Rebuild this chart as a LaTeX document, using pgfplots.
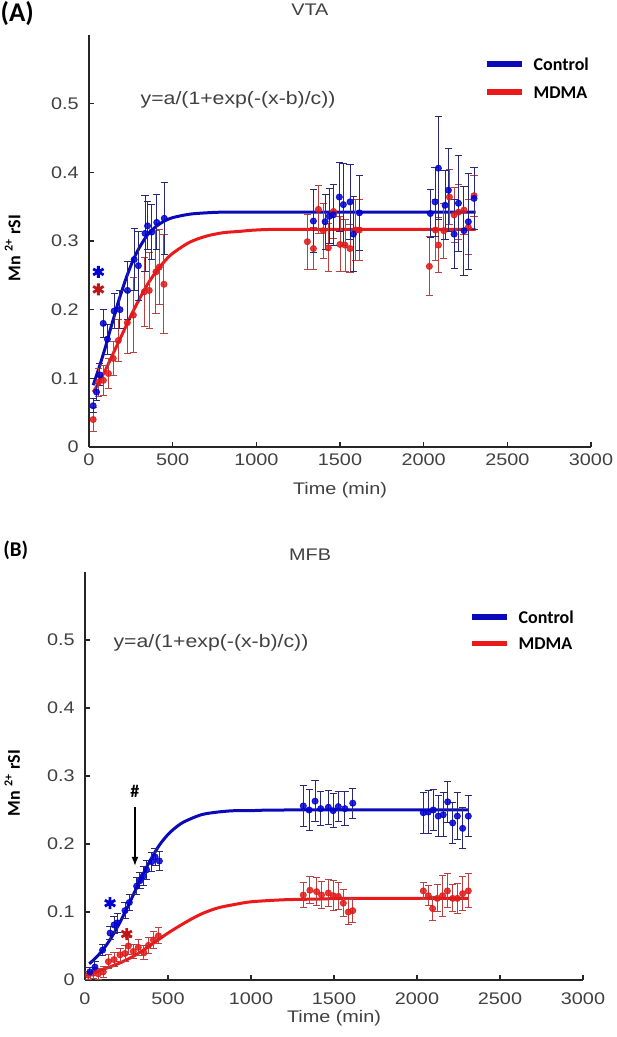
\documentclass[border=0pt]{standalone}
\usepackage{fontspec}
\setmainfont{Liberation Sans}[FakeStretch=1.18]
\newfontfamily\carlito{Carlito}
\usepackage{pgfplots}
\usepackage{pgfplotstable}
\pgfplotsset{compat=1.18}
\usetikzlibrary{arrows.meta}

\definecolor{ctrlmark}{RGB}{0,0,210}
\definecolor{ctrlbar}{RGB}{40,40,120}
\definecolor{ctrlline}{RGB}{10,10,185}
\definecolor{mdmamark}{RGB}{225,25,25}
\definecolor{mdmabar}{RGB}{185,65,65}
\definecolor{mdmaline}{RGB}{235,25,25}
\definecolor{ticktext}{RGB}{64,64,64}

% ---- VTA: mean, s.e.m.
\pgfplotstableread{
x y e
25 0.060 0.010
45 0.080 0.012
65 0.105 0.016
85 0.180 0.020
110 0.157 0.022
150 0.198 0.025
185 0.200 0.028
230 0.228 0.042
270 0.273 0.045
295 0.264 0.050
335 0.311 0.055
350 0.322 0.035
375 0.313 0.040
405 0.327 0.040
450 0.333 0.052
1341 0.329 0.046
1411 0.328 0.040
1436 0.336 0.040
1460 0.338 0.045
1496 0.364 0.050
1520 0.353 0.060
1560 0.357 0.055
1580 0.310 0.055
1616 0.341 0.055
2040 0.340 0.035
2068 0.357 0.050
2088 0.406 0.075
2128 0.352 0.050
2148 0.374 0.060
2182 0.310 0.050
2208 0.355 0.070
2241 0.315 0.065
2267 0.328 0.070
2301 0.362 0.045
}\vtactrl

\pgfplotstableread{
x y e
25 0.040 0.018
56 0.094 0.020
86 0.097 0.022
116 0.107 0.022
145 0.129 0.025
175 0.155 0.030
229 0.181 0.045
265 0.192 0.055
331 0.226 0.050
360 0.228 0.055
400 0.255 0.060
420 0.262 0.055
448 0.237 0.072
1305 0.299 0.040
1341 0.289 0.030
1371 0.346 0.035
1400 0.315 0.040
1430 0.290 0.035
1461 0.343 0.040
1500 0.295 0.040
1530 0.294 0.038
1560 0.289 0.035
1595 0.316 0.045
1616 0.316 0.045
2034 0.263 0.043
2070 0.316 0.045
2088 0.294 0.040
2120 0.315 0.040
2154 0.364 0.040
2182 0.338 0.040
2208 0.342 0.040
2241 0.345 0.035
2267 0.320 0.040
2301 0.366 0.030
}\vtamdma

% fitted curves
\pgfplotstableread{
x y
25 0.090
50 0.108
75 0.127
100 0.147
125 0.169
150 0.190
175 0.211
200 0.230
225 0.248
250 0.264
275 0.278
300 0.290
350 0.309
400 0.321
450 0.329
500 0.334
600 0.339
700 0.341
800 0.342
1000 0.342
2310 0.342
}\vtactrlfit

\pgfplotstableread{
x y
25 0.080
50 0.090
100 0.113
150 0.139
200 0.165
250 0.191
300 0.215
350 0.237
400 0.255
450 0.270
500 0.282
600 0.298
700 0.307
800 0.312
900 0.314
1000 0.316
1200 0.317
2310 0.317
}\vtamdmafit

% ---- MFB
\pgfplotstableread{
x y e
30 0.012 0.006
60 0.019 0.008
106 0.044 0.008
151 0.069 0.010
175 0.081 0.012
195 0.084 0.014
241 0.102 0.012
267 0.114 0.012
311 0.138 0.013
331 0.146 0.012
351 0.153 0.014
371 0.162 0.014
402 0.174 0.014
422 0.181 0.012
448 0.175 0.014
1315 0.256 0.030
1350 0.250 0.030
1386 0.263 0.030
1420 0.252 0.025
1466 0.254 0.025
1495 0.249 0.025
1526 0.255 0.022
1566 0.252 0.025
1613 0.260 0.022
2038 0.246 0.030
2068 0.247 0.032
2098 0.250 0.030
2128 0.241 0.030
2158 0.243 0.032
2185 0.262 0.030
2215 0.231 0.030
2243 0.241 0.035
2275 0.223 0.030
2309 0.241 0.030
}\mfbctrl

\pgfplotstableread{
x y e
20 0.007 0.006
50 0.010 0.008
80 0.009 0.008
110 0.012 0.008
141 0.027 0.010
175 0.030 0.010
211 0.037 0.010
241 0.039 0.012
261 0.050 0.012
291 0.042 0.010
321 0.048 0.012
355 0.040 0.010
382 0.051 0.012
412 0.059 0.012
442 0.065 0.012
1315 0.125 0.018
1355 0.132 0.020
1395 0.130 0.020
1425 0.125 0.020
1466 0.128 0.020
1495 0.124 0.022
1526 0.123 0.020
1556 0.113 0.020
1586 0.100 0.018
1613 0.102 0.018
2038 0.131 0.012
2068 0.124 0.015
2094 0.105 0.018
2122 0.120 0.020
2154 0.124 0.030
2183 0.131 0.025
2215 0.120 0.020
2243 0.120 0.022
2275 0.127 0.025
2309 0.131 0.025
}\mfbmdma

\pgfplotstableread{
x y
25 0.024
50 0.029
100 0.042
150 0.059
200 0.080
250 0.104
300 0.130
350 0.156
400 0.179
450 0.199
500 0.214
550 0.225
600 0.233
700 0.243
800 0.247
900 0.249
1000 0.249
1200 0.250
2310 0.250
}\mfbctrlfit

\pgfplotstableread{
x y
25 0.010
100 0.015
200 0.024
300 0.036
400 0.052
500 0.069
600 0.084
700 0.097
800 0.106
900 0.111
1000 0.115
1200 0.118
1400 0.119
1600 0.120
2310 0.120
}\mfbmdmafit

\pgfplotsset{
  mri/.style={
    scale only axis, clip=false,
    axis lines=left,
    axis line style={-, line width=0.7pt, black!85},
    xmin=0, xmax=3000, ymin=0, ymax=0.6,
    xtick={0,500,1000,1500,2000,2500,3000},
    xticklabels={0,500,1000,1500,2000,2500,3000},
    ytick={0,0.1,0.2,0.3,0.4,0.5},
    yticklabels={0,0.1,0.2,0.3,0.4,0.5},
    tick align=inside, major tick length=2.5pt,
    tick style={line width=0.6pt, black!85},
    ticklabel style={font=\fontsize{8.4}{10}\selectfont, text=ticktext, inner sep=0pt},
    yticklabel style={anchor=east, xshift=-5pt},
    xlabel={Time (min)},
    xlabel style={font=\fontsize{8.4}{10}\selectfont, text=ticktext, anchor=center},
    ylabel={Mn \textsuperscript{2+} rSI},
    ylabel style={font=\carlito\bfseries\fontsize{9}{10}\selectfont, anchor=center},
    every axis title shift=0pt,
    title style={font=\fontsize{8.4}{10}\selectfont, text=ticktext, anchor=center, yshift=0pt},
    legend cell align=left,
    legend image code/.code={\draw[#1] (0pt,0pt) -- (17.5pt,0pt);},
    legend style={draw=none, fill=none, inner sep=0pt, outer sep=0pt, anchor=north west,
      font=\carlito\bfseries\fontsize{9}{10}\selectfont,
      nodes={inner sep=0pt, text height=6.4pt, text depth=0pt},
      /tikz/every odd column/.append style={column sep=4.5pt}},
  },
  ctrlpts/.style={forget plot, only marks, mark=*, mark size=1.55pt, color=ctrlmark,
    mark options={opacity=0.85},
    error bars/.cd, y dir=both, y explicit,
    error bar style={color=ctrlbar, line width=0.5pt},
    error mark options={rotate=90, color=ctrlbar, line width=0.5pt, mark size=1.8pt}},
  mdmapts/.style={forget plot, only marks, mark=*, mark size=1.55pt, color=mdmamark,
    mark options={opacity=0.85},
    error bars/.cd, y dir=both, y explicit,
    error bar style={color=mdmabar, line width=0.5pt},
    error mark options={rotate=90, color=mdmabar, line width=0.5pt, mark size=1.8pt}},
  fit/.style={forget plot, no marks, smooth, line width=1.5pt},
  star/.style={forget plot, only marks, mark=asterisk, mark size=3pt,
    mark options={line width=1.4pt}},
}

\begin{document}
\begin{tikzpicture}
\path[use as bounding box] (0,0) rectangle (308pt,518.5pt);

% ---------------- (A) VTA
\begin{axis}[mri,
  at={(44.5pt,295pt)}, anchor=south west,
  width=251pt, height=206pt,
  xticklabel style={anchor=north, yshift=-3pt},
  xlabel style={at={(axis description cs:0.5,-0.104)}},
  ylabel style={at={(axis description cs:-0.152,0.483)}},
  title={VTA},
  title style={at={(axis description cs:0.44,1.061)}},
  legend style={at={(axis description cs:0.787,0.945)}, row sep=7.6pt},
]
\addplot[fit, color=mdmaline] table[x=x,y=y] {\vtamdmafit};
\addplot[fit, color=ctrlline] table[x=x,y=y] {\vtactrlfit};
\addplot[mdmapts] table[x=x,y=y,y error=e] {\vtamdma};
\addplot[ctrlpts] table[x=x,y=y,y error=e] {\vtactrl};
\addplot[star, color=ctrlmark] coordinates {(56,0.255)};
\addplot[star, color=mdmamark!85!black] coordinates {(56,0.2295)};
\addlegendimage{line width=2.8pt, color=ctrlline}
\addlegendentry{Control}
\addlegendimage{line width=2.8pt, color=mdmaline}
\addlegendentry{MDMA}
\node[font=\fontsize{9}{10}\selectfont, text=ticktext] at (axis cs:891,0.505) {y=a/(1+exp(-(x-b)/c))};
\node[font=\carlito\bfseries\fontsize{13.5}{15}\selectfont] at (axis description cs:-0.143,1.053) {(A)};
\end{axis}

% ---------------- (B) MFB
\begin{axis}[mri,
  at={(42.5pt,28.5pt)}, anchor=south west,
  width=249pt, height=204pt,
  xticklabel style={anchor=north, yshift=-6pt},
  xlabel style={at={(axis description cs:0.5,-0.093)}},
  ylabel style={at={(axis description cs:-0.146,0.483)}},
  title={MFB},
  title style={at={(axis description cs:0.452,1.042)}},
  legend style={at={(axis description cs:0.771,0.906)}, row sep=7pt},
]
\addplot[fit, color=mdmaline] table[x=x,y=y] {\mfbmdmafit};
\addplot[fit, color=ctrlline] table[x=x,y=y] {\mfbctrlfit};
\addplot[mdmapts] table[x=x,y=y,y error=e] {\mfbmdma};
\addplot[ctrlpts] table[x=x,y=y,y error=e] {\mfbctrl};
\addplot[star, color=ctrlmark] coordinates {(151,0.113)};
\addplot[star, color=mdmamark!85!black] coordinates {(251,0.0676)};
\addlegendimage{line width=2.8pt, color=ctrlline}
\addlegendentry{Control}
\addlegendimage{line width=2.8pt, color=mdmaline}
\addlegendentry{MDMA}
\node[font=\fontsize{9}{10}\selectfont, text=ticktext] at (axis cs:759,0.496) {y=a/(1+exp(-(x-b)/c))};
\node[font=\carlito\bfseries\fontsize{10.5}{12}\selectfont] at (axis description cs:-0.139,1.054) {(B)};
\node[font=\carlito\bfseries\fontsize{9}{10}\selectfont] at (axis cs:301,0.277) {\#};
\draw[-{Latex[length=4.5pt,width=3.5pt]}, line width=0.6pt] (axis cs:301,0.254) -- (axis cs:301,0.168);
\end{axis}
\end{tikzpicture}
\end{document}
